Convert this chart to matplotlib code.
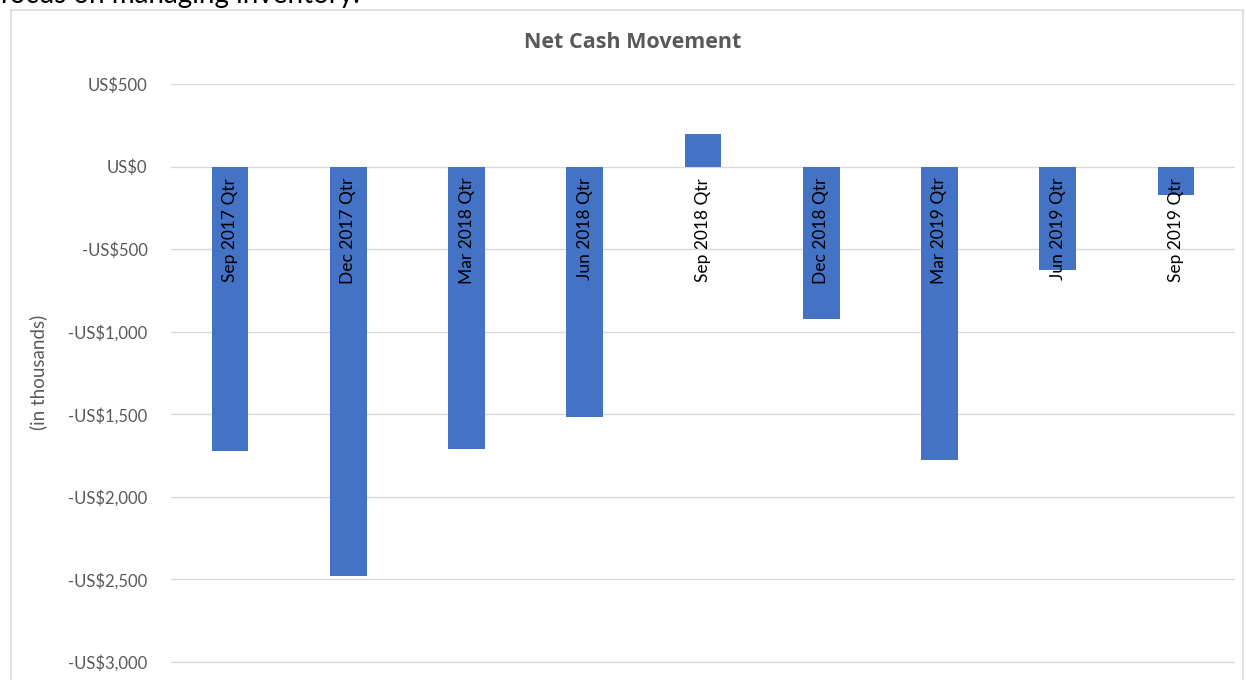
import matplotlib.pyplot as plt
from matplotlib.patches import Rectangle
from matplotlib.ticker import FuncFormatter

plt.rcParams['font.family'] = ['Lato', 'DejaVu Sans']

quarters = ['Sep 2017 Qtr', 'Dec 2017 Qtr', 'Mar 2018 Qtr', 'Jun 2018 Qtr', 'Sep 2018 Qtr',
            'Dec 2018 Qtr', 'Mar 2019 Qtr', 'Jun 2019 Qtr', 'Sep 2019 Qtr']
net_cash = [-1720, -2480, -1710, -1515, 200, -925, -1775, -625, -175]
y_ticks = [500, 0, -500, -1000, -1500, -2000, -2500, -3000]

fig = plt.figure(figsize=(12.46, 6.8), dpi=100)

# chart frame (cut off at the bottom, like the screenshot)
fig.patches.append(Rectangle((11 / 1246, -0.05), 1232 / 1246, 1 - 10 / 680 + 0.05,
                             transform=fig.transFigure, fill=False,
                             edgecolor='#d9d9d9', linewidth=1.2))
# tail end of the paragraph above the chart
fig.text(0.0, 1 - 3 / 680, 'focus on managing inventory.', fontsize=20,
         color='black', va='baseline', ha='left')

# a little room under -3000 so its gridline is not clipped
ax = fig.add_axes([171 / 1246, 1 - 663.65 / 680, 1064 / 1246, (663.65 - 84) / 680])

x = range(len(quarters))
ax.bar(x, net_cash, width=0.31, color='#4472C4', zorder=3)

for i, q in enumerate(quarters):
    ax.annotate(q, (i, 0), xytext=(0, -8), textcoords='offset points',
                rotation=90, ha='center', va='top', fontsize=12.5, color='black', zorder=4)

ax.set_xlim(-0.5, len(quarters) - 0.5)
ax.set_ylim(-3010, 500)
ax.set_yticks(y_ticks)
ax.yaxis.set_major_formatter(FuncFormatter(
    lambda v, p: ('-US$' if v < 0 else 'US$') + f'{abs(int(v)):,}'))
ax.tick_params(axis='y', length=0, pad=17, labelsize=12, labelcolor='#595959')
ax.set_xticks([])
ax.grid(axis='y', color='#d9d9d9', linewidth=1, zorder=0)
for s in ax.spines.values():
    s.set_visible(False)

fig.text(38 / 1246, 1 - 372 / 680, '(in thousands)', rotation=90, ha='center',
         va='center', fontsize=13.5, color='#595959')
fig.text(633 / 1246, 1 - 43 / 680, 'Net Cash Movement', ha='center', va='center',
         fontsize=15.5, fontweight='bold', color='#595959', family=['Open Sans', 'DejaVu Sans'])

fig.savefig('out.png', dpi=100)
